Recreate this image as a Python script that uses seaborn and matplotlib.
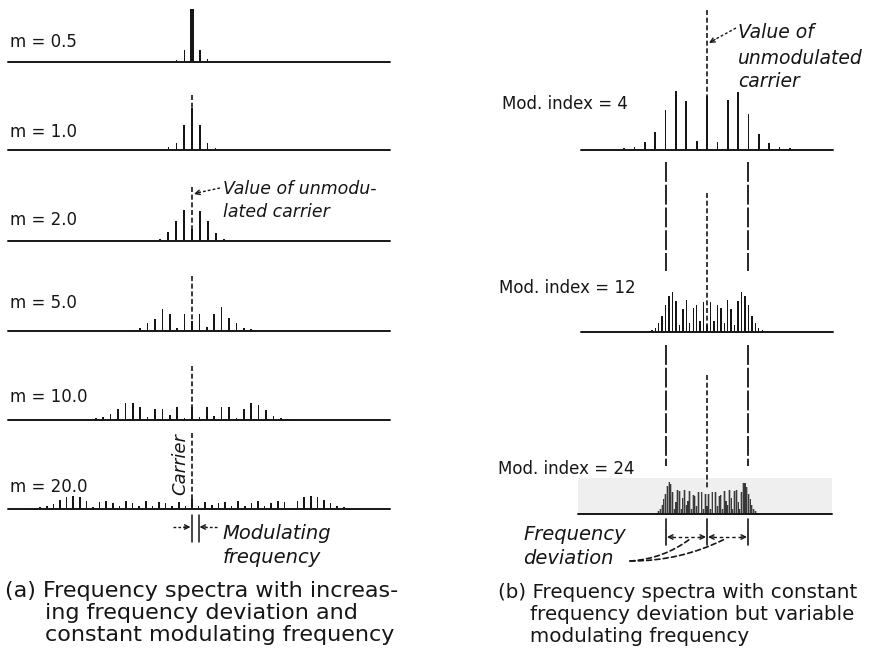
import numpy as np
import pandas as pd
import matplotlib
matplotlib.use("Agg")
import matplotlib.pyplot as plt
import seaborn as sns

# ---------------- data (relative line amplitudes) ----------------
# (a) constant modulating frequency, increasing deviation
a_labels = ["m = 0.5", "m = 1.0", "m = 2.0", "m = 5.0", "m = 10.0", "m = 20.0"]

m05_carrier = 0.95
m05_upper = [0.22, 0.06]
m05_lower = [0.22, 0.04]

m1_carrier = 0.75
m1_upper = [0.45, 0.12, 0.04]
m1_lower = [0.45, 0.12, 0.05]

m2_carrier = 0.22
m2_upper = [0.53, 0.35, 0.15, 0.04]
m2_lower = [0.55, 0.35, 0.16, 0.04]

m5_carrier = 0.18
m5_upper = [0.31, 0.07, 0.31, 0.42, 0.24, 0.15, 0.05, 0.03]
m5_lower = [0.31, 0.05, 0.30, 0.40, 0.22, 0.14, 0.05, 0.02]

m10_carrier = 0.24
m10_upper = [0.05, 0.23, 0.07, 0.24, 0.24, 0.04, 0.19, 0.31, 0.27, 0.17, 0.08, 0.03, 0.02, 0.02]
m10_lower = [0.04, 0.24, 0.09, 0.20, 0.20, 0.05, 0.24, 0.31, 0.31, 0.20, 0.11, 0.06, 0.03, 0.02]

m20_carrier = 0.17
m20_upper = [0.05, 0.12, 0.07, 0.10, 0.12, 0.05, 0.14, 0.06, 0.10, 0.14, 0.05, 0.10, 0.15,
             0.12, 0.02, 0.14, 0.21, 0.23, 0.21, 0.16, 0.10, 0.06, 0.04, 0.02, 0.01]
m20_lower = [0.06, 0.12, 0.06, 0.10, 0.13, 0.05, 0.14, 0.06, 0.11, 0.14, 0.05, 0.11, 0.15,
             0.12, 0.03, 0.15, 0.22, 0.23, 0.22, 0.16, 0.09, 0.06, 0.03, 0.02, 0.01]

# (b) constant deviation, variable modulating frequency
b_labels = ["Mod. index = 4", "Mod. index = 12", "Mod. index = 24"]

b4_carrier = 0.40
b4_upper = [0.06, 0.37, 0.43, 0.27, 0.12, 0.05, 0.02, 0.015]
b4_lower = [0.07, 0.36, 0.44, 0.30, 0.13, 0.06, 0.02, 0.015]

b12_carrier = 0.05
b12_upper = [0.22, 0.08, 0.20, 0.18, 0.07, 0.24, 0.17, 0.05, 0.23, 0.30, 0.27, 0.20, 0.12,
             0.07, 0.03, 0.015, 0.006, 0.003]
b12_lower = [0.22, 0.08, 0.20, 0.18, 0.07, 0.24, 0.17, 0.05, 0.23, 0.30, 0.27, 0.20, 0.12,
             0.07, 0.03, 0.015, 0.006, 0.003]

b24_carrier = 0.06
b24_upper = [0.15, 0.04, 0.16, 0.01, 0.16, 0.06, 0.13, 0.14, 0.04, 0.17, 0.10, 0.07, 0.18,
             0.12, 0.04, 0.17, 0.18, 0.09, 0.04, 0.16, 0.23, 0.23, 0.20, 0.15, 0.11, 0.07,
             0.04, 0.02, 0.01, 0.005]
b24_lower = [0.15, 0.04, 0.16, 0.01, 0.16, 0.06, 0.13, 0.14, 0.04, 0.17, 0.10, 0.07, 0.18,
             0.12, 0.04, 0.17, 0.18, 0.09, 0.04, 0.16, 0.22, 0.24, 0.21, 0.15, 0.11, 0.07,
             0.04, 0.02, 0.01, 0.005]

# ---------------- figure ----------------
sns.set_theme(style="white")
plt.rcParams["font.family"] = ["DejaVu Sans"]
INK = "#161616"

W, H = 873, 651
fig = plt.figure(figsize=(W / 100, H / 100), dpi=100)
fig.patch.set_facecolor("white")


def spectrum(left, right, base, height, cx, spacing, scale, lower, carrier, upper,
             bar_px, carrier_px, color=INK, alpha=1.0, crisp=True, ax=None,
             baseline=True):
    if ax is None:
        ax = fig.add_axes([left / W, 1 - base / H, (right - left) / W, height / H])
    n_before = len(ax.patches)
    orders = list(range(-len(lower), 0)) + [0] + list(range(1, len(upper) + 1))
    amps = list(lower[::-1]) + [carrier] + list(upper)
    df = pd.DataFrame({"order": orders, "amp": amps})
    sns.barplot(data=df, x="order", y="amp", native_scale=True, orient="x",
                width=bar_px / spacing, color=color, saturation=1, alpha=alpha,
                linewidth=0, errorbar=None, ax=ax)
    for p in ax.patches[n_before:]:
        if crisp:
            p.set_antialiased(False)
        if abs(p.get_x() + p.get_width() / 2) < 1e-9:
            p.set_x(-carrier_px / spacing / 2)
            p.set_width(carrier_px / spacing)
    ax.set_xlim((left - cx) / spacing, (right - cx) / spacing)
    ax.set_ylim(0, height / scale)
    if baseline:
        ax.axhline(0, color=INK, lw=1.4, zorder=5, clip_on=False)
    ax.set_axis_off()
    ax.set_xlabel("")
    ax.set_ylabel("")
    return ax


# (a) panels
a_base = [62, 150, 241, 331, 420, 509]
a_spacing = [7.7, 7.8, 8.0, 7.4, 7.4, 6.6]
a_data = [(m05_lower, m05_carrier, m05_upper), (m1_lower, m1_carrier, m1_upper),
          (m2_lower, m2_carrier, m2_upper), (m5_lower, m5_carrier, m5_upper),
          (m10_lower, m10_carrier, m10_upper), (m20_lower, m20_carrier, m20_upper)]
for i, (lo, c, up) in enumerate(a_data):
    cw = 3.4 if i == 0 else 2.6
    spectrum(8, 390, a_base[i], 62, 192, a_spacing[i], 56, lo, c, up, 1.6, cw)

# (b) panels
spectrum(581, 833, 150, 64, 707, 10.35, 135, b4_lower, b4_carrier, b4_upper, 1.7, 2.8)
spectrum(581, 833, 332, 46, 707, 3.45, 135, b12_lower, b12_carrier, b12_upper, 1.4, 2.6)
# photographed (blurred) spectrum: a soft wide layer plus darker strokes
ax24 = spectrum(578, 832, 514, 36, 707, 1.725, 135, b24_lower, b24_carrier, b24_upper,
                2.6, 2.6, color="#6a6a6a", alpha=0.45, crisp=False, baseline=False)
spectrum(578, 832, 514, 36, 707, 1.725, 135, b24_lower, b24_carrier, b24_upper,
         1.1, 1.4, color="#262626", alpha=0.85, crisp=False, ax=ax24)
ax24.set_axis_on()
for s in ax24.spines.values():
    s.set_visible(False)
ax24.set_xticks([])
ax24.set_yticks([])
ax24.set_facecolor("#efefef")

# ---------------- overlay: guides, arrows, text ----------------
ov = fig.add_axes([0, 0, 1, 1], zorder=10)
ov.set_xlim(0, W)
ov.set_ylim(H, 0)
ov.set_axis_off()
ov.patch.set_alpha(0)

short_dash = (0, (3, 1.6))
long_dash = (0, (11, 1.6))


def vdash(x, y0, y1, ls=short_dash, lw=1.2):
    ov.plot([x, x], [y0, y1], color=INK, lw=lw, ls=ls, solid_capstyle="butt")


def head(tip, frm, ms=8):
    ov.annotate("", xy=tip, xytext=frm,
                arrowprops=dict(arrowstyle="->", lw=1.0, color=INK,
                                shrinkA=0, shrinkB=0, mutation_scale=ms))


# left carrier guide lines
for y0, y1 in [(95, 150), (187, 241), (276, 331), (366, 420), (433, 509)]:
    vdash(192, y0, y1)

# modulating frequency marker
ov.plot([191.5, 191.5], [515, 542], color=INK, lw=1.1)
ov.plot([198.5, 198.5], [515, 542], color=INK, lw=1.1)
ov.plot([173, 186], [527, 527], color=INK, lw=1.0, ls=(0, (2, 1.5)))
head((190.5, 527), (184, 527))
ov.plot([217, 205], [527, 527], color=INK, lw=1.0, ls=(0, (2, 1.5)))
head((199.5, 527), (206, 527))

# "Value of unmodulated carrier" arrow (a)
ov.plot([220, 199], [188, 192.5], color=INK, lw=1.0, ls=(0, (2, 1.5)))
head((194, 194), (200, 192.3))

# right guide lines
for x in (666, 748):
    vdash(x, 162, 271, ls=long_dash, lw=1.3)
    vdash(x, 345, 466, ls=long_dash, lw=1.3)
    ov.plot([x, x], [519, 545], color=INK, lw=1.2)
for y0, y1 in [(10, 150), (193, 326), (375, 490)]:
    vdash(707, y0, y1)
ov.plot([707, 707], [519, 545], color=INK, lw=1.2)

# deviation arrows
for xa, xb in [(667, 706), (708, 747)]:
    ov.plot([xa + 5, xb - 5], [537, 537], color=INK, lw=1.0, ls=(0, (2.5, 2)))
    head((xa, 537), (xa + 6, 537))
    head((xb, 537), (xb - 6, 537))

# curved leaders from "deviation"
for end, rad in [((690, 539), 0.15), ((725, 539), 0.12)]:
    ov.annotate("", xy=end, xytext=(630, 561),
                arrowprops=dict(arrowstyle="-", lw=1.2, color=INK, ls=(0, (3, 2)),
                                connectionstyle=f"arc3,rad={rad}", shrinkA=0, shrinkB=0))

# "Value of unmodulated carrier" arrow (b)
ov.plot([736, 714], [28, 40], color=INK, lw=1.0, ls=(0, (2, 1.5)))
head((709, 43), (715, 39.5))

# labels
a_label_base = [47, 137, 225, 308, 402, 492]
for lab, yb in zip(a_labels, a_label_base):
    ov.text(10, yb, lab, fontsize=12, color=INK, va="baseline", ha="left")

b_label_base = [109, 293, 474]
b_label_x = [502, 499, 498]
for lab, yb, xb in zip(b_labels, b_label_base, b_label_x):
    ov.text(xb, yb, lab, fontsize=12, color=INK, va="baseline", ha="left")

ital = dict(color=INK, style="italic", va="baseline", ha="left")
ov.text(223, 194, "Value of unmodu-", fontsize=12.5, **ital)
ov.text(223, 217, "lated carrier", fontsize=12.5, **ital)
ov.text(738, 38, "Value of", fontsize=13.5, **ital)
ov.text(738, 64, "unmodulated", fontsize=13.5, **ital)
ov.text(738, 87, "carrier", fontsize=13.5, **ital)
ov.text(180, 464, "Carrier", fontsize=13, color=INK, style="italic", rotation=90,
        ha="center", va="center")
ov.text(222, 539, "Modulating", fontsize=14, **ital)
ov.text(223, 563, "frequency", fontsize=14, **ital)
ov.text(523, 540, "Frequency", fontsize=14, **ital)
ov.text(523, 564, "deviation", fontsize=14, **ital)

cap = dict(color=INK, va="baseline", ha="left")
ov.text(5, 597, "(a) Frequency spectra with increas-", fontsize=16, **cap)
ov.text(45, 619, "ing frequency deviation and", fontsize=16, **cap)
ov.text(45, 641, "constant modulating frequency", fontsize=16, **cap)
ov.text(498, 598, "(b) Frequency spectra with constant", fontsize=14.3, **cap)
ov.text(530, 620, "frequency deviation but variable", fontsize=14.3, **cap)
ov.text(530, 642, "modulating frequency", fontsize=14.3, **cap)

fig.savefig("out.png", dpi=100, facecolor="white")
